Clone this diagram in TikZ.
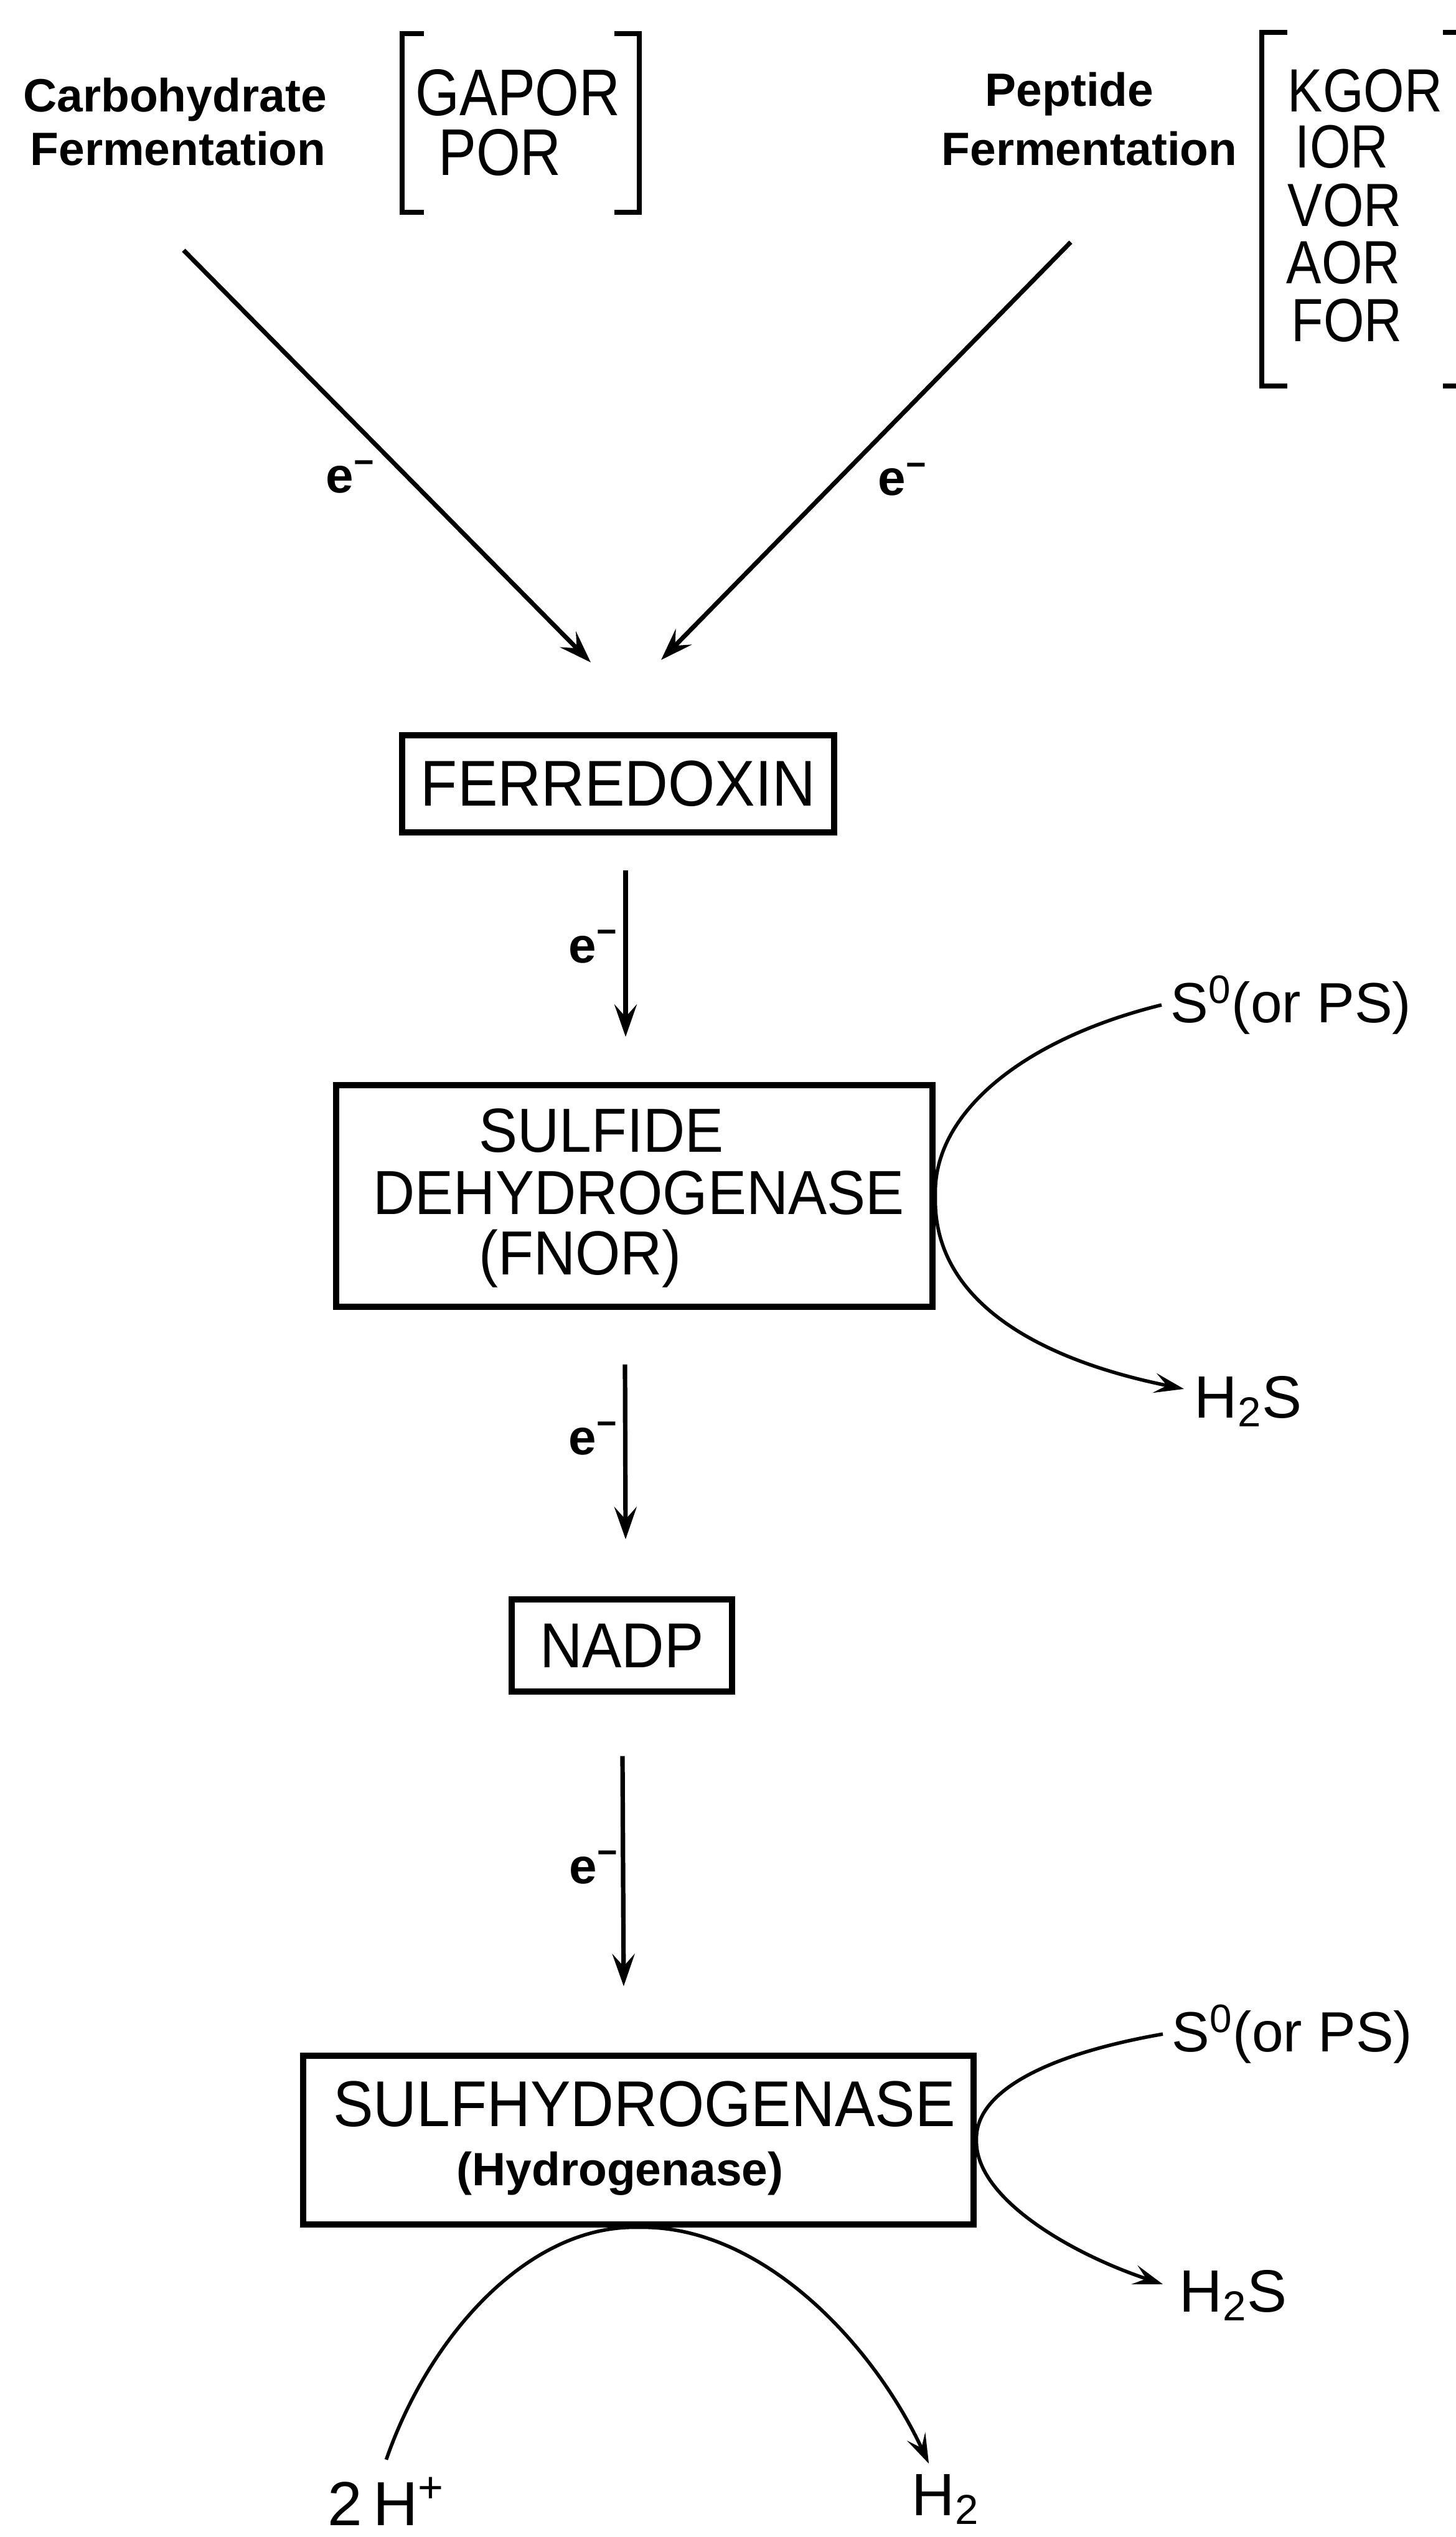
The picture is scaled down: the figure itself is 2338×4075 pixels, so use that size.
\documentclass[tikz,border=0pt]{standalone}
\usepackage{fontspec}
\setmainfont{Liberation Sans}
\newfontfamily\condf{Liberation Sans}[FakeStretch=0.93]
\newfontfamily\narrf{Liberation Sans}[FakeStretch=0.86]
\usetikzlibrary{arrows.meta}
\newcommand\fsz[1]{\fontsize{#1}{#1}\selectfont}
\tikzset{
  box/.style={draw, line width=2.3pt, inner sep=0pt},
  brk/.style={line width=2pt},
  arr/.style={line width=1.8pt, -{Stealth[length=13pt,width=9pt,inset=5pt]}},
  crv/.style={line width=1.4pt, -{Stealth[length=12pt,width=8pt,inset=5pt]}},
  lbl/.style={anchor=base, inner sep=0pt},
  lblw/.style={anchor=base west, inner sep=0pt},
  enz/.style={anchor=base west, inner sep=0pt, font=\narrf\fsz{24.5}, text height=17pt, text depth=0pt},
  elab/.style={anchor=base west, inner sep=0pt, font=\bfseries\fsz{20}},
}
\begin{document}
\begin{tikzpicture}[x=0.25pt,y=-0.25pt]
\fill[white] (0,0) rectangle (2338,4075);
\useasboundingbox (0,0) rectangle (2338,4075);

% top labels
\node[lbl, font=\bfseries\fsz{18.75}] (carbA) at (281,180) {Carbohydrate};
\node[lbl, font=\bfseries\fsz{18.75}] (carbB) at (286,266) {Fermentation};
\node[lbl, font=\bfseries\fsz{18.75}] (pepA) at (1718,171) {Peptide};
\node[lbl, font=\bfseries\fsz{18.75}] (pepB) at (1750,266) {Fermentation};

% left bracket
\draw[brk] (681,54) -- (646,54) -- (646,341) -- (681,341);
\draw[brk] (987,54) -- (1027,54) -- (1027,341) -- (987,341);
\node[lbl, font=\narrf\fsz{26.5}, text height=19pt, text depth=0pt] (gapor) at (832,186) {GAPOR};
\node[lbl, font=\narrf\fsz{26.5}, text height=19pt, text depth=0pt] (por) at (803,282) {POR};

% right bracket
\draw[brk] (2068,52) -- (2027,52) -- (2027,620) -- (2068,620);
\draw[brk] (2318,52) -- (2345,52) -- (2345,620) -- (2318,620);
\node[enz] (kgor) at (2068,180) {KGOR};
\node[enz] (ior) at (2080,270) {IOR};
\node[enz] (vor) at (2068,364) {VOR};
\node[enz] (aor) at (2066,456) {AOR};
\node[enz] (forr) at (2074,549) {FOR};

% diagonal arrows
\coordinate (d1s) at (295,402);
\coordinate (d1e) at (949,1064);
\coordinate (d2s) at (1720,389);
\coordinate (d2e) at (1062,1060);
\draw[arr] (d1s) -- (d1e);
\draw[arr] (d2s) -- (d2e);
\node[elab] (e1) at (523,792) {e\textsuperscript{−}};
\node[elab] (e2) at (1410,796) {e\textsuperscript{−}};

% ferredoxin
\node[box, minimum width=173.5pt, minimum height=39pt, font=\condf\fsz{26}] (ferr) at (993,1259) {FERREDOXIN};

% sulfide dehydrogenase
\node[box, minimum width=239.5pt, minimum height=89pt] (sulf) at (1019,1921) {};
\node[lbl, font=\condf\fsz{25}] (sulfA) at (966,1850) {SULFIDE};
\node[lbl, font=\condf\fsz{25}] (sulfB) at (1026,1950) {DEHYDROGENASE};
\node[lbl, font=\condf\fsz{25}] (sulfC) at (932,2047) {(FNOR)};

\draw[arr] ([xshift=3pt,yshift=-14pt]ferr.south) -- ([xshift=-3.5pt,yshift=18.25pt]sulf.north);
\node[elab] (e3) at (913,1546) {e\textsuperscript{−}};

% side reaction 1
\node[lblw, font=\fsz{22.75}] (s0a) at (1880,1642) {S\textsuperscript{0}(or PS)};
\node[lblw, font=\fsz{24}] (h2sa) at (1918,2277) {H\textsubscript{2}S};
\draw[crv] ([xshift=-3.5pt]s0a.west) .. controls (1640,1670) and (1498,1790) .. (sulf.east)
  .. controls (1498,2080) and (1650,2180) .. ([xshift=-4pt,yshift=5pt]h2sa.west);

% NADP
\node[box, minimum width=88.5pt, minimum height=37pt, font=\condf\fsz{25.5}] (nadp) at (999,2643) {NADP};
\draw[arr] ([xshift=-3.75pt,yshift=-22pt]sulf.south) -- ([xshift=1.5pt,yshift=23pt]nadp.north);
\node[elab] (e4) at (913,2336) {e\textsuperscript{−}};

% sulfhydrogenase
\node[box, minimum width=269.25pt, minimum height=67.75pt] (shyd) at (1025.5,3437.5) {};
\node[lbl, font=\condf\fsz{26}] (shydA) at (1035,3415) {SULFHYDROGENASE};
\node[lbl, font=\bfseries\fsz{18.75}] (shydB) at (996,3510) {(Hydrogenase)};
\draw[arr] ([xshift=0.25pt,yshift=-24.75pt]nadp.south) -- ([xshift=-5.9pt,yshift=26.75pt]shyd.north);
\node[elab] (e5) at (914,3025) {e\textsuperscript{−}};

% side reaction 2
\node[lblw, font=\fsz{22.75}] (s0b) at (1882,3295) {S\textsuperscript{0}(or PS)};
\node[lblw, font=\fsz{24}] (h2sb) at (1894,3713) {H\textsubscript{2}S};
\draw[crv] ([xshift=-3.5pt]s0b.west) .. controls (1680,3300) and (1566,3360) .. (shyd.east)
  .. controls (1566,3530) and (1720,3620) .. ([xshift=-6.5pt,yshift=4.5pt]h2sb.west);

% hydrogen
\node[lblw, font=\fsz{25}] (hplus) at (526,4056) {2\,H\textsuperscript{+}};
\node[lblw, font=\fsz{24}] (htwo) at (1464,4040) {H\textsubscript{2}};
\draw[crv] ([yshift=7pt]hplus.north) .. controls (690,3750) and (850,3573) .. (shyd.south)
  .. controls (1220,3573) and (1400,3760) .. ([xshift=-6.75pt,yshift=4pt]htwo.north);
\end{tikzpicture}
\end{document}
